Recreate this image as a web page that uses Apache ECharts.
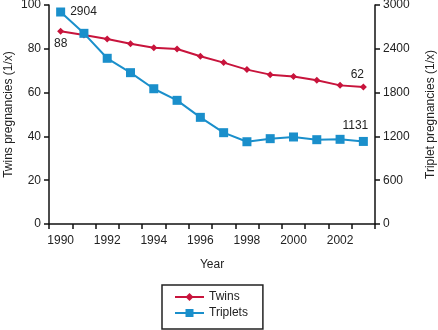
<!DOCTYPE html>
<html><head><meta charset="utf-8">
<script src="https://cdn.jsdelivr.net/npm/echarts@6/dist/echarts.min.js"></script>
<style>html,body{margin:0;padding:0;background:#fff}#c{width:438px;height:330px}</style>
</head><body><div id="c"></div>
<script>
var years = ['1990','1991','1992','1993','1994','1995','1996','1997','1998','1999','2000','2001','2002','2003'];
var twins = [88, 86.3, 84.5, 82.3, 80.5, 79.9, 76.6, 73.7, 70.5, 68.2, 67.4, 65.6, 63.3, 62.6];
var triplets = [2904, 2612, 2270, 2073, 1853, 1694, 1461, 1251, 1127, 1169, 1192, 1155, 1160, 1131];
var leftTicks = [0, 20, 40, 60, 80, 100];
var rightTicks = [0, 600, 1200, 1800, 2400, 3000];

var txt = '#222';
var font = 'Liberation Sans, Arial, sans-serif';
var red = '#c8143c', blue = '#1a8fcb';

function withLabels(arr, first, last) {
  return arr.map(function (v, i) {
    if (i === 0 && first) return {value: v, label: Object.assign({show: true, formatter: String(Math.round(v))}, first)};
    if (i === arr.length - 1 && last) return {value: v, label: Object.assign({show: true, formatter: String(Math.floor(v))}, last)};
    return v;
  });
}

var chart = echarts.init(document.getElementById('c'));
chart.setOption({
  animation: false,
  textStyle: {fontFamily: font, color: txt},
  grid: {left: 49, right: 63, top: 5, bottom: 106, containLabel: false, outerBoundsMode: 'none'},
  xAxis: {
    type: 'category', data: years, boundaryGap: true,
    name: 'Year', nameLocation: 'middle', nameGap: 35,
    nameTextStyle: {fontSize: 12, color: txt, fontFamily: font},
    axisLine: {lineStyle: {color: '#111', width: 1.5}},
    axisTick: {show: true, interval: 0, length: 5, lineStyle: {color: '#111', width: 1.5}},
    axisLabel: {interval: 1, fontSize: 12, color: txt, margin: 11, fontFamily: font}
  },
  yAxis: [{
    type: 'value', min: leftTicks[0], max: leftTicks[leftTicks.length - 1], interval: 20,
    name: 'Twins pregnancies (1/x)', nameLocation: 'middle', nameGap: 34, nameRotate: 90, nameMoveOverlap: false,
    nameTextStyle: {fontSize: 12, color: txt, fontFamily: font},
    axisLine: {show: true, lineStyle: {color: '#111', width: 1.5}},
    axisTick: {show: true, length: 5, lineStyle: {color: '#111', width: 1.5}},
    splitLine: {show: false},
    axisLabel: {fontSize: 12, color: txt, margin: 8, fontFamily: font, formatter: function (v) { return String(v); }}
  }, {
    type: 'value', position: 'right', min: rightTicks[0], max: rightTicks[rightTicks.length - 1], interval: 600,
    name: 'Triplet pregnancies (1/x)', nameLocation: 'middle', nameGap: 50, nameRotate: 90, nameMoveOverlap: false,
    nameTextStyle: {fontSize: 12, color: txt, fontFamily: font},
    axisLine: {show: true, lineStyle: {color: '#111', width: 1.5}},
    axisTick: {show: true, length: 5, lineStyle: {color: '#111', width: 1.5}},
    splitLine: {show: false},
    axisLabel: {fontSize: 12, color: txt, margin: 8, fontFamily: font, formatter: function (v) { return String(v); }}
  }],
  legend: {
    orient: 'vertical', left: 162, top: 285, height: 80,
    padding: [6, 15, 10, 12], itemGap: 4, itemWidth: 29, itemHeight: 10,
    borderColor: '#222', borderWidth: 1.5,
    textStyle: {fontSize: 12, color: txt, fontFamily: font},
    data: ['Twins', 'Triplets']
  },
  series: [{
    name: 'Twins', type: 'line', yAxisIndex: 0,
    data: withLabels(twins,
      {position: 'bottom', distance: 3, fontSize: 12, color: txt, fontFamily: font},
      {position: 'top', distance: 3, offset: [-6, 0], fontSize: 12, color: txt, fontFamily: font}),
    symbol: 'diamond', symbolSize: 7,
    lineStyle: {color: red, width: 2}, itemStyle: {color: red}
  }, {
    name: 'Triplets', type: 'line', yAxisIndex: 1,
    data: withLabels(triplets,
      {position: 'right', distance: 5, fontSize: 12, color: txt, fontFamily: font},
      {position: 'top', distance: 5, offset: [-8, 0], fontSize: 12, color: txt, fontFamily: font}),
    symbol: 'rect', symbolSize: 9,
    lineStyle: {color: blue, width: 2}, itemStyle: {color: blue}
  }]
});
</script></body></html>
